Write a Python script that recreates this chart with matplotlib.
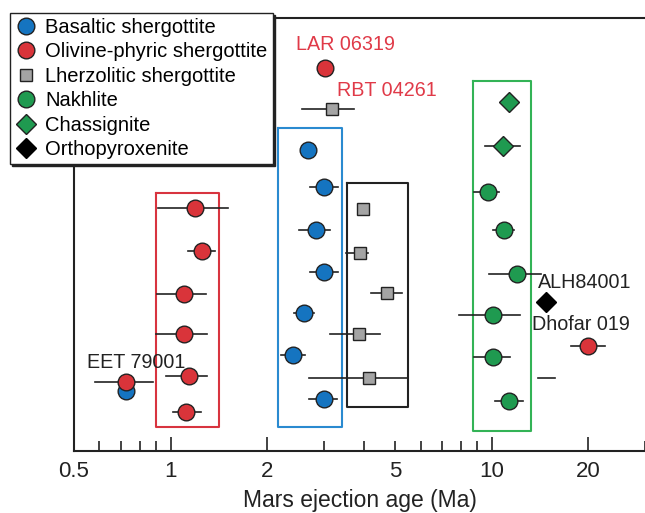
import matplotlib
matplotlib.use("Agg")
import matplotlib.pyplot as plt
from matplotlib.lines import Line2D
from matplotlib.ticker import FixedLocator, FuncFormatter

plt.rcParams['font.family'] = ['Liberation Sans', 'DejaVu Sans']

# rows are vertical positions (no y scale in the original, top = small)
# basaltic shergottites
bas_age = [2.67, 3.0, 2.83, 3.0, 2.60, 2.40, 3.0, 0.727]
bas_lo = [2.67, 2.71, 2.51, 2.71, 2.42, 2.21, 2.70, 0.727]
bas_hi = [2.67, 3.32, 3.13, 3.32, 2.79, 2.62, 3.30, 0.727]
bas_row = [150, 187, 230, 272, 313, 355, 399, 391]

# olivine-phyric shergottites
oli_age = [3.02, 1.19, 1.25, 1.10, 1.10, 1.14, 1.12, 0.727, 20.0]
oli_lo = [3.02, 0.91, 1.13, 0.906, 0.90, 0.97, 1.016, 0.58, 17.7]
oli_hi = [3.02, 1.51, 1.37, 1.29, 1.30, 1.30, 1.24, 0.88, 22.5]
oli_row = [68, 208, 251, 294, 334, 376, 412, 382, 346]

# lherzolitic shergottites
lhz_age = [3.17, 3.97, 3.90, 4.71, 3.85, 4.14]
lhz_lo = [2.56, 3.97, 3.51, 4.22, 3.13, 2.69]
lhz_hi = [3.72, 3.97, 4.12, 5.26, 4.49, 5.50]
lhz_row = [109, 209, 253, 293, 334, 378]

# nakhlites
nak_age = [9.7, 10.9, 12.0, 10.1, 10.1, 11.3]
nak_lo = [8.8, 10.1, 9.8, 7.9, 8.8, 10.2]
nak_hi = [10.5, 11.7, 14.2, 12.2, 11.4, 12.5]
nak_row = [192, 230, 274, 315, 357, 401]

# chassignites
cha_age = [11.3, 10.8]
cha_lo = [11.3, 9.5]
cha_hi = [11.3, 12.2]
cha_row = [102, 146]

# orthopyroxenite
opx_age = [14.8]
opx_row = [302]
# lone error bar without marker
extra_lo = [13.9]
extra_hi = [15.7]
extra_row = [378]

# group boxes: age range and row range
box_x = [(0.90, 1.41), (2.16, 3.41), (3.53, 5.50), (8.76, 13.2)]
box_y = [(193, 427), (128, 427), (183, 407), (81, 431)]
box_col = ['#d8343f', '#2a8ad0', '#222222', '#33b356']

labels = ['LAR 06319', 'RBT 04261', 'EET 79001', 'ALH84001', 'Dhofar 019']
label_x = [2.45, 3.3, 0.55, 13.9, 13.3]
label_y = [45, 90, 363, 283, 324]
label_col = ['#e03a48', '#e03a48', '#222222', '#222222', '#222222']

BLUE = '#1574c0'
RED = '#d9343a'
GREY = '#a4a4a4'
GREEN = '#1f9a50'

fig = plt.figure(figsize=(6.45, 5.13), dpi=100)
ax = fig.add_axes([74 / 645, 62 / 513, 571 / 645, 433 / 513])


def draw(age, lo, hi, row, marker, color, ms):
    for a, l, h, r in zip(age, lo, hi, row):
        if h > l:
            ax.plot([l, h], [r, r], color='#222222', lw=1.2, zorder=2)
    ax.plot(age, row, ls='none', marker=marker, ms=ms, mfc=color,
            mec='#222222', mew=1.0, zorder=3)


for (x0, x1), (y0, y1), c in zip(box_x, box_y, box_col):
    ax.plot([x0, x1, x1, x0, x0], [y0, y0, y1, y1, y0], color=c, lw=1.5, zorder=1)

draw(bas_age, bas_lo, bas_hi, bas_row, 'o', BLUE, 12)
draw(oli_age, oli_lo, oli_hi, oli_row, 'o', RED, 12)
draw(lhz_age, lhz_lo, lhz_hi, lhz_row, 's', GREY, 9)
draw(nak_age, nak_lo, nak_hi, nak_row, 'o', GREEN, 12)
draw(cha_age, cha_lo, cha_hi, cha_row, 'D', GREEN, 10)
ax.plot(opx_age, opx_row, ls='none', marker='D', ms=10, mfc='black', mec='black', zorder=3)
for l, h, r in zip(extra_lo, extra_hi, extra_row):
    ax.plot([l, h], [r, r], color='#222222', lw=1.2)

for t, x, y, c in zip(labels, label_x, label_y, label_col):
    ax.text(x, y, t, color=c, fontsize=14.2, va='center', ha='left')

ax.set_xscale('log')
ax.set_xlim(0.5, 30)
ax.set_ylim(451, 18)
ax.set_yticks([])
ax.spines['right'].set_visible(False)
for s in ['left', 'bottom', 'top']:
    ax.spines[s].set_linewidth(1.5)
    ax.spines[s].set_color('#222222')

ax.xaxis.set_major_locator(FixedLocator([1, 2, 10, 20]))
ax.xaxis.set_major_formatter(FuncFormatter(lambda v, p: '%g' % v))
ax.xaxis.set_minor_locator(FixedLocator([0.5, 0.6, 0.7, 0.8, 0.9, 3, 4, 5, 6, 7, 8, 9, 30]))
ax.xaxis.set_minor_formatter(FuncFormatter(lambda v, p: '%g' % v if v in (0.5, 5) else ''))
ax.tick_params(axis='x', which='major', direction='in', length=10, width=1.2,
               labelsize=16, pad=7, colors='#222222')
ax.tick_params(axis='x', which='minor', direction='in', length=7, width=1.2,
               labelsize=16, pad=7, colors='#222222')
ax.set_xlabel('Mars ejection age (Ma)', fontsize=16.5, color='#222222', labelpad=5)

handles = [
    Line2D([], [], ls='none', marker='o', ms=12, mfc=BLUE, mec='#222222', label='Basaltic shergottite'),
    Line2D([], [], ls='none', marker='o', ms=12, mfc=RED, mec='#222222', label='Olivine-phyric shergottite'),
    Line2D([], [], ls='none', marker='s', ms=9, mfc=GREY, mec='#222222', label='Lherzolitic shergottite'),
    Line2D([], [], ls='none', marker='o', ms=12, mfc=GREEN, mec='#222222', label='Nakhlite'),
    Line2D([], [], ls='none', marker='D', ms=10, mfc=GREEN, mec='#222222', label='Chassignite'),
    Line2D([], [], ls='none', marker='D', ms=10, mfc='black', mec='black', label='Orthopyroxenite'),
]
leg = fig.legend(handles=handles, loc='upper left', bbox_to_anchor=(10 / 645, 1 - 13 / 513),
                 fontsize=14.5, frameon=True, fancybox=False,
                 shadow={'ox': 1.5, 'oy': -1.5, 'color': '#222222', 'alpha': 1.0},
                 handlelength=1.1, handletextpad=0.4, borderpad=0.25,
                 labelspacing=0.27, borderaxespad=0)
leg.get_frame().set_edgecolor('#222222')
leg.get_frame().set_linewidth(1.0)
leg.get_frame().set_facecolor('white')
leg.get_frame().set_alpha(1.0)

fig.savefig('out.png', dpi=100)
